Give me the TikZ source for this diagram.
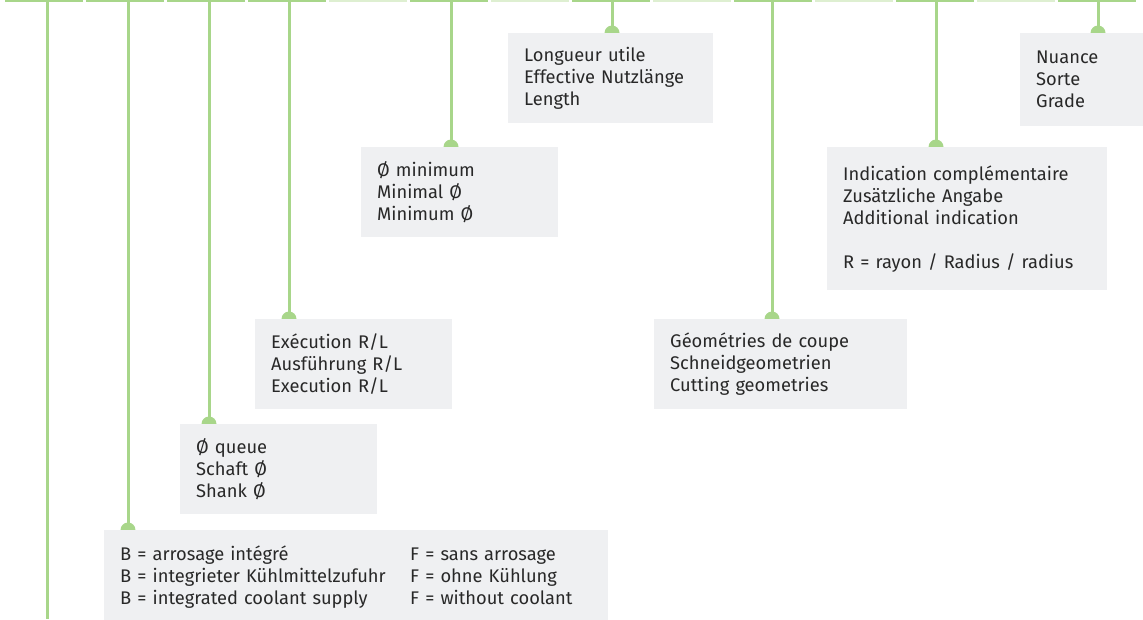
\documentclass[tikz,border=0pt]{standalone}
\usepackage{fontspec}
\setmainfont{Fira Sans}
\usetikzlibrary{positioning,backgrounds}
\definecolor{leaf}{RGB}{168,214,138}
\definecolor{leaflight}{RGB}{222,239,209}
\definecolor{boxgray}{RGB}{239,240,242}
\definecolor{ink}{RGB}{40,40,40}

\begin{document}
\begin{tikzpicture}[x=1pt,y=-1pt,
  infobox/.style={fill=boxgray,anchor=north west,align=left,inner xsep=16pt,inner ysep=0pt,
    text=ink,font=\fontsize{18.3}{22}\selectfont},
  stem/.style={leaf,line width=3pt},
  knob/.style={fill=leaf}]
\useasboundingbox (0,0) rectangle (1143,619);

% top bar
\foreach \i/\c in {0/leaf,1/leaf,2/leaf,3/leaf,4/leaflight,5/leaf,6/leaflight,
  7/leaf,8/leaflight,9/leaf,10/leaflight,11/leaf,12/leaflight,13/leaf}
  \fill[\c] ({5+81*\i},0) rectangle ({83+81*\i},2);

% boxes
\node[infobox,text width=173pt,minimum height=90pt] (len) at (508,33)
  {Longueur utile\\Effective Nutzlänge\\Length};
\node[infobox,text width=91pt,minimum height=93pt] (grade) at (1020,33)
  {Nuance\\Sorte\\Grade};
\node[infobox,text width=165pt,minimum height=90pt] (mini) at (361,147)
  {Ø minimum\\Minimal Ø\\Minimum Ø};
\node[infobox,text width=248pt,minimum height=143pt] (extra) at (827,147)
  {Indication complémentaire\\Zusätzliche Angabe\\Additional indication\\[22pt]R = rayon / Radius / radius};
\node[infobox,text width=165pt,minimum height=90pt] (hand) at (255,319)
  {Exécution R/L\\Ausführung R/L\\Execution R/L};
\node[infobox,text width=221pt,minimum height=90pt] (geo) at (654,319)
  {Géométries de coupe\\Schneidgeometrien\\Cutting geometries};
\node[infobox,text width=165pt,minimum height=90pt] (shank) at (180,424)
  {Ø queue\\Schaft Ø\\Shank Ø};
\node[infobox,text width=472pt,minimum height=95pt] (cool) at (104,530)
  {\begin{tabular}{@{}p{290pt}@{}l@{}}
   B = arrosage intégré & F = sans arrosage\\
   B = integrieter Kühlmittelzufuhr & F = ohne Kühlung\\
   B = integrated coolant supply & F = without coolant
   \end{tabular}};

% stems
\coordinate (s0) at (47,0);
\coordinate (s0end) at (47,619);
\coordinate (s1) at (128,0);
\coordinate (s2) at (209,0);
\coordinate (s3) at (289,0);
\coordinate (s5) at (451,0);
\coordinate (s7) at (612,0);
\coordinate (s9) at (772,0);
\coordinate (s11) at (936,0);
\coordinate (s13) at (1098,0);

\begin{scope}[on background layer]
\draw[stem] (s0) -- (s0end);
\foreach \s/\b in {s1/cool,s2/shank,s3/hand,s5/mini,s7/len,s9/geo,s11/extra,s13/grade}{
  \draw[stem] (\s) -- (\s |- \b.north);
  \fill[knob] (\s |- \b.north) circle (7.5pt);
}
\end{scope}
\end{tikzpicture}
\end{document}
